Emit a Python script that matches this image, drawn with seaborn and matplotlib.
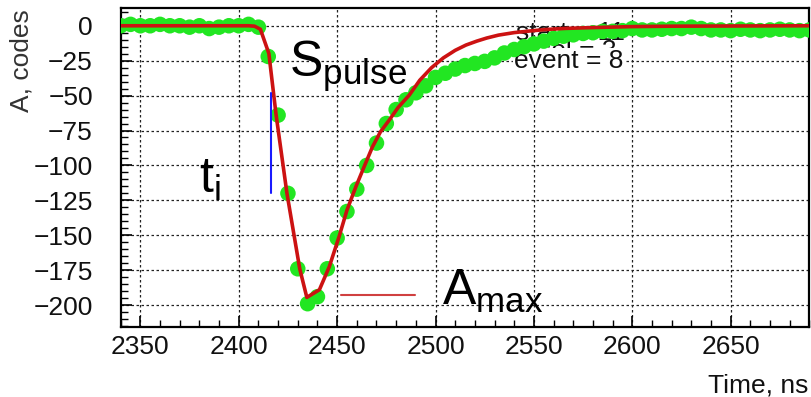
import matplotlib
matplotlib.use("Agg")
import matplotlib.pyplot as plt
import pandas as pd
import seaborn as sns
from matplotlib.ticker import MultipleLocator, FixedLocator

# Digitised waveform samples (5 ns sampling)
time_ns = [2340, 2345, 2350, 2355, 2360, 2365, 2370, 2375, 2380, 2385,
           2390, 2395, 2400, 2405, 2410, 2415, 2420, 2425, 2430, 2435,
           2440, 2445, 2450, 2455, 2460, 2465, 2470, 2475, 2480, 2485,
           2490, 2495, 2500, 2505, 2510, 2515, 2520, 2525, 2530, 2535,
           2540, 2545, 2550, 2555, 2560, 2565, 2570, 2575, 2580, 2585,
           2590, 2595, 2600, 2605, 2610, 2615, 2620, 2625, 2630, 2635,
           2640, 2645, 2650, 2655, 2660, 2665, 2670, 2675, 2680, 2685,
           2690]
amp_codes = [0, 1, 0, 0, 1, 0, 0, -1, 0, -2,
             -1, 0, 0, 1, -1, -22, -64, -120, -174, -199,
             -194, -174, -152, -133, -117, -100, -84, -70, -60, -53,
             -48, -43, -37, -34, -31, -28.5, -27, -25.5, -23, -19.5,
             -17, -15, -13, -11, -9, -7.5, -6.5, -5.5, -5, -4,
             -4, -3.5, -2, -3, -3, -2.5, -2, -2, -1, -2,
             -3, -3, -3.5, -2.5, -3, -3.5, -3, -2.5, -3, -3.5,
             -3]

# Pulse-shape fit
fit_time = [2340, 2405, 2408, 2411, 2415.3, 2419, 2424.5, 2431, 2434.6,
            2441, 2446, 2451, 2455, 2459.6, 2464, 2468, 2472, 2476.5,
            2481, 2486.7, 2492, 2498, 2504, 2510, 2515.5, 2521, 2526,
            2532, 2540, 2549, 2557, 2566, 2575, 2583, 2600, 2620, 2690]
fit_amp = [0, 0, -0.3, -2.5, -19.8, -64, -120, -174, -194.5,
           -189, -172.6, -151, -132, -115, -100, -86.6, -76, -67.5,
           -58.5, -49.6, -39, -30, -23, -17.6, -13.8, -11, -8.8,
           -6.7, -4.9, -3.6, -2.6, -1.9, -1.5, -1.2, -0.6, -0.3, 0]

# Marker for the threshold crossing time t_i
ti_time = 2416.6
ti_span = (-48.4, -119.6)
# Marker for the pulse maximum A_max
amax_level = -192.8
amax_span = (2452, 2489.6)

x_ticks = [2350, 2400, 2450, 2500, 2550, 2600, 2650]
y_ticks = [0, -25, -50, -75, -100, -125, -150, -175, -200]

sns.set_theme(style="white")
plt.rcParams["font.family"] = ["Liberation Sans", "DejaVu Sans"]

fig = plt.figure(figsize=(8.11, 3.97), dpi=100)
ax = fig.add_axes([0.1488, 0.177, 0.998 - 0.1488, 0.9798 - 0.177])

samples = pd.DataFrame({"time": time_ns, "amp": amp_codes})
fit = pd.DataFrame({"time": fit_time, "amp": fit_amp})

sns.scatterplot(data=samples, x="time", y="amp", ax=ax, s=125,
                color="#22e622", edgecolor="none", linewidth=0, zorder=3)
sns.lineplot(data=fit, x="time", y="amp", ax=ax, color="#cc1212",
             linewidth=2.6, zorder=4, sort=False)

ax.plot([ti_time, ti_time], list(ti_span), color="#1a1aff", lw=1.5, zorder=5)
ax.plot(list(amax_span), [amax_level, amax_level], color="#d04040", lw=1.5, zorder=5)

ax.set_xlim(2340, 2690)
ax.set_ylim(-215.5, 12.7)
ax.xaxis.set_major_locator(FixedLocator(x_ticks))
ax.yaxis.set_major_locator(FixedLocator(y_ticks))
ax.xaxis.set_minor_locator(MultipleLocator(10))
ax.yaxis.set_minor_locator(MultipleLocator(5))

ax.grid(True, which="major", color="#222222", linestyle=(0, (2, 2)),
        linewidth=0.9, zorder=0.5)
ax.set_axisbelow(True)

ax.tick_params(axis="both", which="both", direction="in", color="black",
               left=True, bottom=True, top=False, right=False)
ax.tick_params(axis="both", which="major", length=8, width=1.2,
               labelsize=19, labelcolor="#111111")
ax.tick_params(axis="both", which="minor", length=5, width=1.0)
ax.tick_params(axis="y", which="major", pad=20)
ax.tick_params(axis="x", which="major", pad=6)

for sp in ax.spines.values():
    sp.set_visible(True)
    sp.set_color("black")
    sp.set_linewidth(1.6)

ax.set_xlabel("")
ax.set_ylabel("")
fig.text(22 / 811, 1 - 9 / 397, "A, codes", rotation=90, ha="center",
         va="top", fontsize=19, color="#333333")
fig.text(808 / 811, 1 - 393 / 397, "Time, ns", ha="right", va="baseline",
         fontsize=19, color="#111111")

# Run information text (stacked lines of the event header)
ax.text(2541, -10.2, "start = 11", fontsize=19, color="#111111", zorder=1)
ax.text(2552, -23, "sel = 3", fontsize=19, color="#111111", zorder=1.1)
ax.text(2540, -30.3, "event = 8", fontsize=19, color="#111111", zorder=1.2,
        bbox=dict(facecolor="white", edgecolor="none", pad=0.5))

# Parameter labels
ax.text(2425.5, -36.5, r"$\mathregular{S_{pulse}}$", fontsize=36,
        ha="left", va="baseline", color="black", zorder=6)
ax.text(2380, -119.8, r"$\mathregular{t_{i}}$", fontsize=36,
        ha="left", va="baseline", color="black", zorder=6)
ax.text(2503.5, -200, r"$\mathregular{A_{max}}$", fontsize=36,
        ha="left", va="baseline", color="black", zorder=6)

fig.savefig("out.png", dpi=100)
